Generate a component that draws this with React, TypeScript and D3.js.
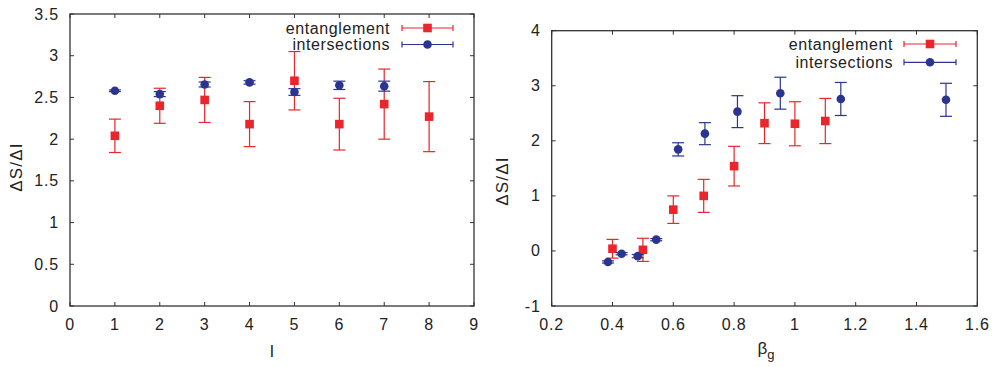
import React from "react";
import * as d3 from "d3";

// Left panel: vs l
const lValues = [1, 2, 3, 4, 5, 6, 7, 8];
const entL = [2.04, 2.40, 2.47, 2.18, 2.70, 2.18, 2.42, 2.27];
const entLErr = [0.2, 0.21, 0.27, 0.27, 0.35, 0.31, 0.42, 0.42];
const intLx = [1, 2, 3, 4, 5, 6, 7];
const intL = [2.58, 2.54, 2.655, 2.68, 2.565, 2.645, 2.635];
const intLErr = [0.01, 0.03, 0.03, 0.02, 0.04, 0.05, 0.06];

// Right panel: vs beta_g
const entBx = [0.4, 0.5, 0.6, 0.7, 0.8, 0.9, 1.0, 1.1];
const entB = [0.04, 0.02, 0.75, 1.0, 1.54, 2.32, 2.31, 2.36];
const entBErr = [0.17, 0.21, 0.25, 0.3, 0.36, 0.37, 0.4, 0.41];
const intBx = [0.385, 0.43, 0.483, 0.544, 0.616, 0.704, 0.811, 0.952, 1.151, 1.497];
const intB = [-0.2, -0.05, -0.095, 0.205, 1.845, 2.13, 2.53, 2.865, 2.76, 2.745];
const intBErr = [0.02, 0.02, 0.03, 0.02, 0.12, 0.2, 0.29, 0.29, 0.3, 0.3];

const leftXTicks = [0, 1, 2, 3, 4, 5, 6, 7, 8, 9];
const leftYTicks = [0, 0.5, 1, 1.5, 2, 2.5, 3, 3.5];
const rightXTicks = [0.2, 0.4, 0.6, 0.8, 1, 1.2, 1.4, 1.6];
const rightYTicks = [-1, 0, 1, 2, 3, 4];

const seriesNames = ["entanglement", "intersections"];

const RED = "#e8262b";
const BLUE = "#2b3590";
const AXIS = "#333";
const FONT = "'Liberation Sans', Arial, Helvetica, sans-serif";
const FS = 16;

type PanelProps = {
  x0: number; x1: number; y0: number; y1: number;
  xDomain: [number, number]; yDomain: [number, number];
  xTicks: number[]; yTicks: number[];
  ent: { x: number[]; y: number[]; e: number[] };
  inter: { x: number[]; y: number[]; e: number[] };
  xLabel: React.ReactNode; xLabelX: number; xLabelY: number;
  yLabelX: number; yLabelY: number;
  legendTextX: number; legendLineX0: number; legendLineX1: number; legendY0: number; legendY1: number;
};

function ErrBar({ cx, yt, yb, color }: { cx: number; yt: number; yb: number; color: string }) {
  const cw = 6;
  return (
    <g stroke={color} strokeWidth={1.2} fill="none">
      <line x1={cx} x2={cx} y1={yt} y2={yb} />
      <line x1={cx - cw} x2={cx + cw} y1={yt} y2={yt} />
      <line x1={cx - cw} x2={cx + cw} y1={yb} y2={yb} />
    </g>
  );
}

function Square({ cx, cy }: { cx: number; cy: number }) {
  const s = 8.6;
  return <rect x={cx - s / 2} y={cy - s / 2} width={s} height={s} fill={RED} />;
}
function Dot({ cx, cy }: { cx: number; cy: number }) {
  return <circle cx={cx} cy={cy} r={4.3} fill={BLUE} />;
}

function Panel(p: PanelProps) {
  const xs = d3.scaleLinear().domain(p.xDomain).range([p.x0, p.x1]);
  const ys = d3.scaleLinear().domain(p.yDomain).range([p.y1, p.y0]);
  const tl = 4;
  const fmt = (v: number) => String(+v.toFixed(2));
  const legendSample = (y: number, color: string, marker: React.ReactNode) => (
    <g>
      <g stroke={color} strokeWidth={1.2}>
        <line x1={p.legendLineX0} x2={p.legendLineX1} y1={y} y2={y} />
        <line x1={p.legendLineX0} x2={p.legendLineX0} y1={y - 3} y2={y + 3} />
        <line x1={p.legendLineX1} x2={p.legendLineX1} y1={y - 3} y2={y + 3} />
      </g>
      {marker}
    </g>
  );
  const mid = (p.legendLineX0 + p.legendLineX1) / 2;
  return (
    <g fontFamily={FONT} fontSize={FS} fill="#222">
      {/* ticks */}
      <g stroke={AXIS} strokeWidth={1}>
        {p.xTicks.map((t, i) => (
          <g key={"xt" + i}>
            <line x1={xs(t)} x2={xs(t)} y1={p.y1} y2={p.y1 - tl} />
            <line x1={xs(t)} x2={xs(t)} y1={p.y0} y2={p.y0 + tl} />
          </g>
        ))}
        {p.yTicks.map((t, i) => (
          <g key={"yt" + i}>
            <line x1={p.x0} x2={p.x0 + tl} y1={ys(t)} y2={ys(t)} />
            <line x1={p.x1} x2={p.x1 - tl} y1={ys(t)} y2={ys(t)} />
          </g>
        ))}
      </g>
      <rect x={p.x0} y={p.y0} width={p.x1 - p.x0} height={p.y1 - p.y0} fill="none" stroke={AXIS} strokeWidth={1.3} />
      {p.xTicks.map((t, i) => (
        <text key={"xl" + i} x={xs(t)} y={p.y1 + 24} textAnchor="middle" letterSpacing={0.8}>{fmt(t)}</text>
      ))}
      {p.yTicks.map((t, i) => (
        <text key={"yl" + i} x={p.x0 - 11} y={ys(t) + 5.5} textAnchor="end" letterSpacing={0.8}>{fmt(t)}</text>
      ))}
      <text x={p.xLabelX} y={p.xLabelY} textAnchor="middle" fontSize={17}>{p.xLabel}</text>
      <text transform={`translate(${p.yLabelX},${p.yLabelY}) rotate(-90)`} textAnchor="middle" fontSize={17} letterSpacing={1.2}>ΔS/ΔI</text>

      {/* entanglement */}
      {p.ent.x.map((x, i) => (
        <ErrBar key={"ee" + i} cx={xs(x)} yt={ys(p.ent.y[i] + p.ent.e[i])} yb={ys(p.ent.y[i] - p.ent.e[i])} color={RED} />
      ))}
      {p.ent.x.map((x, i) => (
        <Square key={"es" + i} cx={xs(x)} cy={ys(p.ent.y[i])} />
      ))}
      {/* intersections */}
      {p.inter.x.map((x, i) => (
        <ErrBar key={"ie" + i} cx={xs(x)} yt={ys(p.inter.y[i] + p.inter.e[i])} yb={ys(p.inter.y[i] - p.inter.e[i])} color={BLUE} />
      ))}
      {p.inter.x.map((x, i) => (
        <Dot key={"id" + i} cx={xs(x)} cy={ys(p.inter.y[i])} />
      ))}

      {/* legend */}
      <text x={p.legendTextX} y={p.legendY0 + 5.5} textAnchor="end" letterSpacing={0.6}>{seriesNames[0]}</text>
      <text x={p.legendTextX} y={p.legendY1 + 5.5} textAnchor="end" letterSpacing={0.6}>{seriesNames[1]}</text>
      {legendSample(p.legendY0, RED, <Square cx={mid} cy={p.legendY0} />)}
      {legendSample(p.legendY1, BLUE, <Dot cx={mid} cy={p.legendY1} />)}
    </g>
  );
}

export default function App() {
  return (
    <svg width={994} height={367} style={{ position: "absolute", left: 0, top: 0, background: "#fff" }}>
      <Panel
        x0={70} x1={474} y0={14} y1={306}
        xDomain={[0, 9]} yDomain={[0, 3.5]}
        xTicks={leftXTicks} yTicks={leftYTicks}
        ent={{ x: lValues, y: entL, e: entLErr }}
        inter={{ x: intLx, y: intL, e: intLErr }}
        xLabel="l" xLabelX={272} xLabelY={357}
        yLabelX={22} yLabelY={167}
        legendTextX={390} legendLineX0={402} legendLineX1={453} legendY0={28} legendY1={44.5}
      />
      <Panel
        x0={551.7} x1={977.3} y0={30.7} y1={306}
        xDomain={[0.2, 1.6]} yDomain={[-1, 4]}
        xTicks={rightXTicks} yTicks={rightYTicks}
        ent={{ x: entBx, y: entB, e: entBErr }}
        inter={{ x: intBx, y: intB, e: intBErr }}
        xLabel={<>β<tspan fontSize={13} dy={5}>g</tspan></>} xLabelX={766} xLabelY={354}
        yLabelX={508} yLabelY={181}
        legendTextX={893} legendLineX0={904} legendLineX1={956} legendY0={44} legendY1={62.3}
      />
    </svg>
  );
}
